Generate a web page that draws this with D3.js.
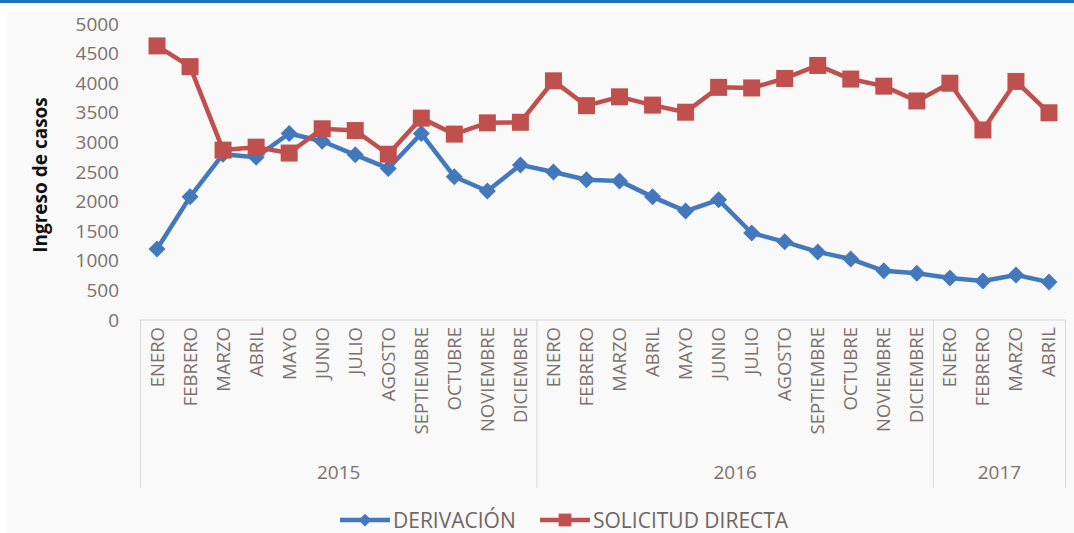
<!DOCTYPE html>
<html>
<head>
<meta charset="utf-8">
<script src="https://cdn.jsdelivr.net/npm/d3@7"></script>
<style>
  body { margin: 0; background: #ffffff; }
  svg { display: block; }
</style>
</head>
<body>
<script>
const width = 1074,
    height = 533;

// data
const months = ["ENERO", "FEBRERO", "MARZO", "ABRIL", "MAYO", "JUNIO", "JULIO", "AGOSTO",
    "SEPTIEMBRE", "OCTUBRE", "NOVIEMBRE", "DICIEMBRE",
    "ENERO", "FEBRERO", "MARZO", "ABRIL", "MAYO", "JUNIO", "JULIO", "AGOSTO",
    "SEPTIEMBRE", "OCTUBRE", "NOVIEMBRE", "DICIEMBRE",
    "ENERO", "FEBRERO", "MARZO", "ABRIL"];
const years = ["2015", "2016", "2017"];
const monthsPerYear = [12, 12, 4];

const derivacion = [1200, 2080, 2800, 2750, 3150, 3020, 2790, 2560, 3150, 2420, 2180, 2620,
    2500, 2370, 2350, 2080, 1840, 2030, 1470, 1320, 1150, 1030, 830, 790,
    710, 660, 760, 640];
const solicitud = [4630, 4280, 2870, 2920, 2820, 3230, 3200, 2800, 3410, 3140, 3330, 3340,
    4040, 3620, 3770, 3630, 3510, 3930, 3920, 4080, 4300, 4070, 3950, 3700,
    4000, 3210, 4030, 3500];
const yTicks = [0, 500, 1000, 1500, 2000, 2500, 3000, 3500, 4000, 4500, 5000];

const series = [
    {name: "DERIVACIÓN", values: derivacion, color: "#4378bd", marker: "diamond"},
    {name: "SOLICITUD DIRECTA", values: solicitud, color: "#c0504d", marker: "square"}
];

const plotLeft = 140.5, plotRight = 1065.5, plotTop = 24, plotBottom = 320;
const labelColor = "#7a716e";

var svg = d3.select("body").append("svg")
    .attr("width", width)
    .attr("height", height)
    .style("font-family", "'Open Sans', sans-serif");

// top blue rule and chart background
svg.append("rect").attr("x", 0).attr("y", 0).attr("width", width).attr("height", 3).attr("fill", "#1f72b8");
svg.append("rect").attr("x", 7).attr("y", 12).attr("width", width - 7).attr("height", height - 12).attr("fill", "#f9f9f9");

var x = d3.scaleBand().domain(d3.range(months.length)).range([plotLeft, plotRight]).padding(0);
var y = d3.scaleLinear().domain([0, 5000]).range([plotBottom, plotTop]);

function cx(i) { return x(i) + x.bandwidth() / 2; }

// y axis labels
var yAxis = d3.axisLeft(y).tickValues(yTicks).tickFormat(d3.format("d")).tickSize(0).tickPadding(0);
svg.append("g")
    .attr("transform", "translate(119,0)")
    .call(yAxis)
    .call(g => g.select(".domain").remove())
    .selectAll("text")
    .attr("fill", labelColor)
    .style("font-size", "19px")
    .style("font-family", "'Open Sans', sans-serif");

// y axis title
svg.append("text")
    .attr("transform", "translate(47," + ((plotTop + plotBottom) / 2 + 3) + ") rotate(-90)")
    .attr("text-anchor", "middle")
    .style("font-size", "19px")
    .style("font-weight", "bold")
    .attr("fill", "#111")
    .text("Ingreso de casos");

// horizontal axis line
svg.append("line")
    .attr("x1", plotLeft - 1).attr("x2", plotRight)
    .attr("y1", plotBottom).attr("y2", plotBottom)
    .attr("stroke", "#d9d9d9").attr("stroke-width", 1);

// month labels
svg.append("g").selectAll("text")
    .data(months)
    .enter().append("text")
    .attr("transform", (d, i) => "translate(" + (cx(i) + 6.5) + "," + (plotBottom + 7) + ") rotate(-90)")
    .attr("text-anchor", "end")
    .attr("fill", labelColor)
    .style("font-size", "18.5px")
    .text(d => d);

// year groups
var starts = [];
var acc = 0;
monthsPerYear.forEach(function(n) { starts.push(acc); acc += n; });
var sepIdx = starts.concat([months.length]);

svg.append("g").selectAll("line")
    .data(sepIdx)
    .enter().append("line")
    .attr("x1", d => d < months.length ? x(d) : x(d - 1) + x.bandwidth())
    .attr("x2", d => d < months.length ? x(d) : x(d - 1) + x.bandwidth())
    .attr("y1", plotBottom).attr("y2", 488)
    .attr("stroke", "#d9d9d9").attr("stroke-width", 1);

svg.append("g").selectAll("text")
    .data(years)
    .enter().append("text")
    .attr("x", (d, i) => (x(starts[i]) + x(starts[i] + monthsPerYear[i] - 1) + x.bandwidth()) / 2)
    .attr("y", 479)
    .attr("text-anchor", "middle")
    .attr("fill", labelColor)
    .style("font-size", "19px")
    .text(d => d);

// lines and markers
var line = d3.line()
    .x((d, i) => cx(i))
    .y(d => y(d));

function drawMarker(sel, type, color) {
    if (type === "square") {
        sel.append("rect")
            .attr("x", -8.5).attr("y", -8.5).attr("width", 17).attr("height", 17)
            .attr("fill", color);
    } else {
        sel.append("path")
            .attr("d", "M0,-8.5L8.5,0L0,8.5L-8.5,0Z")
            .attr("fill", color);
    }
}

series.forEach(function(s) {
    svg.append("path")
        .datum(s.values)
        .attr("d", line)
        .attr("fill", "none")
        .attr("stroke", s.color)
        .attr("stroke-width", 4.5)
        .attr("stroke-linejoin", "round");

    svg.append("g").selectAll("g")
        .data(s.values)
        .enter().append("g")
        .attr("transform", (d, i) => "translate(" + cx(i) + "," + y(d) + ")")
        .each(function() { drawMarker(d3.select(this), s.marker, s.color); });
});

// legend
var legend = svg.append("g").selectAll("g")
    .data(series)
    .enter().append("g")
    .attr("transform", (d, i) => "translate(" + (340 + i * 200) + ",520)");

legend.append("line")
    .attr("x1", 0).attr("x2", 50)
    .attr("stroke", d => d.color)
    .attr("stroke-width", 4.5);

legend.each(function(d) {
    var m = d3.select(this).append("g").attr("transform", "translate(25,0) scale(0.75)");
    drawMarker(m, d.marker, d.color);
});

legend.append("text")
    .attr("x", 53)
    .attr("y", 7.5)
    .attr("fill", "#6f6663")
    .style("font-size", "21px")
    .text(d => d.name);
</script>
</body>
</html>
